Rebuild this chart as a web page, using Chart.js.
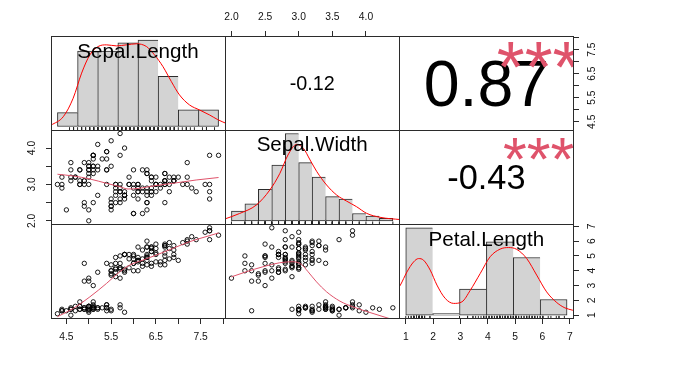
<!DOCTYPE html>
<html>
<head>
<meta charset="utf-8">
<script src="https://cdn.jsdelivr.net/npm/chart.js@4/dist/chart.umd.min.js"></script>
<style>
html, body { margin: 0; padding: 0; background: #fff; }
#wrap { position: relative; width: 678px; height: 366px; }
#wrap canvas { position: absolute; left: 0; top: 0; }
</style>
</head>
<body>
<div id="wrap"></div>
<script>
// variables shown on the diagonal
const varNames = ['Sepal.Length', 'Sepal.Width', 'Petal.Length'];

// raw observations (150 flowers)
const sepalLength = [
  5.1,4.9,4.7,4.6,5.0,5.4,4.6,5.0,4.4,4.9,5.4,4.8,4.8,4.3,5.8,5.7,5.4,5.1,5.7,5.1,5.4,5.1,4.6,5.1,4.8,
  5.0,5.0,5.2,5.2,4.7,4.8,5.4,5.2,5.5,4.9,5.0,5.5,4.9,4.4,5.1,5.0,4.5,4.4,5.0,5.1,4.8,5.1,4.6,5.3,5.0,
  7.0,6.4,6.9,5.5,6.5,5.7,6.3,4.9,6.6,5.2,5.0,5.9,6.0,6.1,5.6,6.7,5.6,5.8,6.2,5.6,5.9,6.1,6.3,6.1,6.4,
  6.6,6.8,6.7,6.0,5.7,5.5,5.5,5.8,6.0,5.4,6.0,6.7,6.3,5.6,5.5,5.5,6.1,5.8,5.0,5.6,5.7,5.7,6.2,5.1,5.7,
  6.3,5.8,7.1,6.3,6.5,7.6,4.9,7.3,6.7,7.2,6.5,6.4,6.8,5.7,5.8,6.4,6.5,7.7,7.7,6.0,6.9,5.6,7.7,6.3,6.7,
  7.2,6.2,6.1,6.4,7.2,7.4,7.9,6.4,6.3,6.1,7.7,6.3,6.4,6.0,6.9,6.7,6.9,5.8,6.8,6.7,6.7,6.3,6.5,6.2,5.9
];
const sepalWidth = [
  3.5,3.0,3.2,3.1,3.6,3.9,3.4,3.4,2.9,3.1,3.7,3.4,3.0,3.0,4.0,4.4,3.9,3.5,3.8,3.8,3.4,3.7,3.6,3.3,3.4,
  3.0,3.4,3.5,3.4,3.2,3.1,3.4,4.1,4.2,3.1,3.2,3.5,3.6,3.0,3.4,3.5,2.3,3.2,3.5,3.8,3.0,3.8,3.2,3.7,3.3,
  3.2,3.2,3.1,2.3,2.8,2.8,3.3,2.4,2.9,2.7,2.0,3.0,2.2,2.9,2.9,3.1,3.0,2.7,2.2,2.5,3.2,2.8,2.5,2.8,2.9,
  3.0,2.8,3.0,2.9,2.6,2.4,2.4,2.7,2.7,3.0,3.4,3.1,2.3,3.0,2.5,2.6,3.0,2.6,2.3,2.7,3.0,2.9,2.9,2.5,2.8,
  3.3,2.7,3.0,2.9,3.0,3.0,2.5,2.9,2.5,3.6,3.2,2.7,3.0,2.5,2.8,3.2,3.0,3.8,2.6,2.2,3.2,2.8,2.8,2.7,3.3,
  3.2,2.8,3.0,2.8,3.0,2.8,3.8,2.8,2.8,2.6,3.0,3.4,3.1,3.0,3.1,3.1,3.1,2.7,3.2,3.3,3.0,2.5,3.0,3.4,3.0
];
const petalLength = [
  1.4,1.4,1.3,1.5,1.4,1.7,1.4,1.5,1.4,1.5,1.5,1.6,1.4,1.1,1.2,1.5,1.3,1.4,1.7,1.5,1.7,1.5,1.0,1.7,1.9,
  1.6,1.6,1.5,1.4,1.6,1.6,1.5,1.5,1.4,1.5,1.2,1.3,1.4,1.3,1.5,1.3,1.3,1.3,1.6,1.9,1.4,1.6,1.4,1.5,1.4,
  4.7,4.5,4.9,4.0,4.6,4.5,4.7,3.3,4.6,3.9,3.5,4.2,4.0,4.7,3.6,4.4,4.5,4.1,4.5,3.9,4.8,4.0,4.9,4.7,4.3,
  4.4,4.8,5.0,4.5,3.5,3.8,3.7,3.9,5.1,4.5,4.5,4.7,4.4,4.1,4.0,4.4,4.6,4.0,3.3,4.2,4.2,4.2,4.3,3.0,4.1,
  6.0,5.1,5.9,5.6,5.8,6.6,4.5,6.3,5.8,6.1,5.1,5.3,5.5,5.0,5.1,5.3,5.5,6.7,6.9,5.0,5.7,4.9,6.7,4.9,5.7,
  6.0,4.8,4.9,5.6,5.8,6.1,6.4,5.6,5.1,5.6,6.1,5.6,5.5,4.8,5.4,5.6,5.1,5.1,5.9,5.7,5.2,5.0,5.2,5.4,5.1
];

// histogram bins and counts
const slBreaks = [4.0, 4.5, 5.0, 5.5, 6.0, 6.5, 7.0, 7.5, 8.0];
const slCounts = [5, 27, 27, 30, 31, 18, 6, 6];
const swBreaks = [2.0, 2.2, 2.4, 2.6, 2.8, 3.0, 3.2, 3.4, 3.6, 3.8, 4.0, 4.2, 4.4];
const swCounts = [4, 7, 13, 23, 36, 24, 18, 10, 9, 3, 2, 1];
const plBreaks = [1, 2, 3, 4, 5, 6, 7];
const plCounts = [50, 1, 15, 42, 33, 9];

// density curves [x, density]
const slDensity = [[3.84,0.006],[4.145,0.047],[4.39,0.135],[4.6,0.255],[4.805,0.342],[5.01,0.382],
  [5.22,0.39],[5.47,0.385],[5.71,0.39],[5.96,0.395],[6.21,0.382],[6.41,0.342],[6.62,0.286],[6.83,0.214],
  [7.03,0.151],[7.28,0.103],[7.53,0.079],[7.78,0.055],[7.98,0.033],[8.2,0.014]];
const swDensity = [[1.88,0.018],[2.12,0.1],[2.37,0.217],[2.57,0.423],[2.72,0.652],[2.84,0.904],
  [2.97,1.05],[3.07,0.996],[3.17,0.835],[3.27,0.675],[3.415,0.492],[3.565,0.354],[3.71,0.272],
  [3.86,0.194],[4.01,0.103],[4.21,0.048],[4.52,0.016]];
const plDensity = [[0.7,0.1],[0.8,0.115],[1.045,0.165],[1.29,0.203],[1.477,0.216],[1.66,0.21],
  [1.91,0.172],[2.16,0.115],[2.468,0.064],[2.78,0.045],[3.09,0.051],[3.4,0.095],[3.77,0.159],
  [4.14,0.223],[4.51,0.252],[4.82,0.258],[5.13,0.251],[5.5,0.216],[5.87,0.153],[6.24,0.089],
  [6.62,0.048],[6.92,0.028],[7.21,0.019],[7.3,0.016]];

// smoother lines in the lower panels [x, y]
const slSwSmooth = [[4.3,3.28],[4.653,3.232],[5.025,3.149],[5.397,3.031],[5.693,2.938],[5.878,2.874],
  [6.139,2.894],[6.435,2.957],[6.881,3.031],[7.4,3.122],[7.9,3.19]];
const slPlSmooth = [[4.3,0.9],[4.653,1.454],[5.025,2.239],[5.397,3.146],[5.693,3.93],[5.916,4.384],
  [6.21,4.72],[6.51,5.06],[6.88,5.51],[7.25,5.96],[7.62,6.3],[7.9,6.55]];
const swPlSmooth = [[2.0,3.59],[2.22,3.93],[2.468,4.27],[2.717,4.54],[2.916,4.61],[3.04,4.43],
  [3.14,3.93],[3.265,3.25],[3.414,2.58],[3.613,1.95],[3.81,1.56],[4.06,1.18],[4.4,0.7]];

// correlations for upper panels: (1,2), (1,3), (2,3)
const corrValues = [-0.12, 0.87, -0.43];
const corrStars = ['', '***', '***'];

// axis ticks
const slTicks = [4.5, 5, 5.5, 6, 6.5, 7, 7.5, 8];
const slTickLabels = ['4.5', '', '5.5', '', '6.5', '', '7.5', ''];
const swTicks = [2, 2.5, 3, 3.5, 4];
const swTopLabels = ['2.0', '2.5', '3.0', '3.5', '4.0'];
const swLeftLabels = ['2.0', '', '3.0', '', '4.0'];
const plTicks = [1, 2, 3, 4, 5, 6, 7];
const plTickLabels = ['1', '2', '3', '4', '5', '6', '7'];

const W = 678, H = 366;
const colEdges = [51, 225, 399.3, 573.5];
const rowEdges = [36.5, 130, 224.3, 318.7];
const FONT = '"Liberation Sans", Arial, Helvetica, sans-serif';
const LINE = '#2b2b2b';

const vars = [sepalLength, sepalWidth, petalLength];
const hists = [
  { breaks: slBreaks, counts: slCounts, dens: slDensity },
  { breaks: swBreaks, counts: swCounts, dens: swDensity },
  { breaks: plBreaks, counts: plCounts, dens: plDensity }
];
const smooths = { '10': slSwSmooth, '20': slPlSmooth, '21': swPlSmooth };
const axisTicks = [
  { ticks: slTicks, bottom: slTickLabels, top: slTickLabels, left: slTickLabels, right: slTickLabels },
  { ticks: swTicks, bottom: swTopLabels, top: swTopLabels, left: swLeftLabels, right: swLeftLabels },
  { ticks: plTicks, bottom: plTickLabels, top: plTickLabels, left: plTickLabels, right: plTickLabels }
];

function ext(lo, hi) {
  const d = (hi - lo) * 0.04;
  return [lo - d, hi + d];
}
const ranges = vars.map(v => ext(Math.min(...v), Math.max(...v)));

function snap(v) { return Math.floor(v) + 0.5; }

function drawCentered(ctx, txt, px, cx, cy, color) {
  ctx.font = px + 'px ' + FONT;
  ctx.textAlign = 'center';
  ctx.textBaseline = 'alphabetic';
  const m = ctx.measureText(txt);
  ctx.fillStyle = color;
  ctx.fillText(txt, cx, cy + (m.actualBoundingBoxAscent - m.actualBoundingBoxDescent) / 2);
}

function drawAxis(chart, ax) {
  const ctx = chart.ctx;
  const a = chart.chartArea;
  const sc = chart.scales[ax.scale];
  const TICK = 5.5, LAB = 19;
  ctx.save();
  ctx.strokeStyle = LINE;
  ctx.lineWidth = 1;
  ctx.fillStyle = '#111';
  ctx.font = '10.3px ' + FONT;
  ctx.textAlign = 'center';
  ctx.textBaseline = 'middle';
  const pos = ax.ticks.map(v => sc.getPixelForValue(v));
  ctx.beginPath();
  if (ax.side === 'bottom' || ax.side === 'top') {
    const y0 = ax.side === 'bottom' ? snap(a.bottom) : snap(a.top);
    const dir = ax.side === 'bottom' ? 1 : -1;
    ctx.moveTo(snap(pos[0]), y0);
    ctx.lineTo(snap(pos[pos.length - 1]), y0);
    pos.forEach(p => { ctx.moveTo(snap(p), y0); ctx.lineTo(snap(p), y0 + dir * TICK); });
    ctx.stroke();
    ax.labels.forEach((t, i) => { if (t) ctx.fillText(t, pos[i], y0 + dir * LAB); });
  } else {
    const x0 = ax.side === 'left' ? snap(a.left) : snap(a.right);
    const dir = ax.side === 'left' ? -1 : 1;
    ctx.moveTo(x0, snap(pos[0]));
    ctx.lineTo(x0, snap(pos[pos.length - 1]));
    pos.forEach(p => { ctx.moveTo(x0, snap(p)); ctx.lineTo(x0 + dir * TICK, snap(p)); });
    ctx.stroke();
    ax.labels.forEach((t, i) => {
      if (!t) return;
      ctx.save();
      ctx.translate(x0 + dir * LAB, pos[i]);
      ctx.rotate(-Math.PI / 2);
      ctx.fillText(t, 0, 0);
      ctx.restore();
    });
  }
  ctx.restore();
}

// texts, panel frame and axes
const decor = {
  id: 'decor',
  afterDatasetsDraw(chart, args, opts) {
    const ctx = chart.ctx;
    const a = chart.chartArea;
    const w = a.right - a.left, h = a.bottom - a.top;
    ctx.save();
    if (opts.label) {
      drawCentered(ctx, opts.label, 20.6, a.left + 0.5 * w, a.bottom - 0.8333 * h, '#000');
    }
    if (opts.corr !== undefined && opts.corr !== null) {
      const r = opts.corr;
      const txt = r.toFixed(2);
      ctx.font = '100px ' + FONT;
      const w100 = ctx.measureText(txt).width;
      const cexPx = 100 * 0.8 * w / w100;
      drawCentered(ctx, txt, cexPx * (Math.abs(r) + 0.3) / 1.3, a.left + 0.5 * w, a.bottom - 0.5 * h, '#000');
      if (opts.stars) {
        ctx.save();
        ctx.beginPath();
        ctx.rect(a.left, a.top, w, h);
        ctx.clip();
        drawCentered(ctx, opts.stars, cexPx, a.left + 0.8 * w, a.bottom - 0.8 * h, '#DF536B');
        ctx.restore();
      }
    }
    ctx.restore();
  },
  afterDraw(chart, args, opts) {
    const ctx = chart.ctx;
    const a = chart.chartArea;
    ctx.save();
    ctx.strokeStyle = LINE;
    ctx.lineWidth = 1;
    ctx.strokeRect(snap(a.left), snap(a.top), snap(a.right) - snap(a.left), snap(a.bottom) - snap(a.top));
    ctx.restore();
    (opts.axes || []).forEach(ax => drawAxis(chart, ax));
  }
};

const wrap = document.getElementById('wrap');

for (let i = 0; i < 3; i++) {
  for (let j = 0; j < 3; j++) {
    const canvas = document.createElement('canvas');
    canvas.width = W;
    canvas.height = H;
    wrap.appendChild(canvas);

    const pad = {
      left: colEdges[j], right: W - colEdges[j + 1],
      top: rowEdges[i], bottom: H - rowEdges[i + 1]
    };

    // axes like pairs(): alternate sides
    const axes = [];
    if (i === 2 && j % 2 === 0) axes.push({ side: 'bottom', scale: 'vx', ticks: axisTicks[j].ticks, labels: axisTicks[j].bottom });
    if (i === 0 && j % 2 === 1) axes.push({ side: 'top', scale: 'vx', ticks: axisTicks[j].ticks, labels: axisTicks[j].top });
    if (j === 0 && i % 2 === 1) axes.push({ side: 'left', scale: 'vy', ticks: axisTicks[i].ticks, labels: axisTicks[i].left });
    if (j === 2 && i % 2 === 0) axes.push({ side: 'right', scale: 'vy', ticks: axisTicks[i].ticks, labels: axisTicks[i].right });

    let type, datasets, xr, yr, xStep;
    const decorOpts = { axes: axes };

    if (i === j) {
      const hst = hists[i];
      const bw = hst.breaks[1] - hst.breaks[0];
      const n = vars[i].length;
      const dens = hst.counts.map(c => c / (n * bw));
      const maxD = Math.max(...dens);
      xr = ext(hst.breaks[0], hst.breaks[hst.breaks.length - 1]);
      yr = ext(0, maxD);
      xStep = bw;
      const last = hst.counts.length - 1;
      type = 'bar';
      datasets = [
        {
          type: 'bar',
          data: hst.counts.map((c, k) => ({ x: (hst.breaks[k] + hst.breaks[k + 1]) / 2, y: dens[k] })),
          backgroundColor: '#D3D3D3',
          borderColor: LINE,
          borderWidth: ctx => ctx.dataIndex === last ? 1 : { left: 1, top: 1, bottom: 1, right: 0 },
          borderSkipped: false,
          barPercentage: 1,
          categoryPercentage: 1,
          order: 3
        },
        {
          type: 'line',
          data: hst.dens.map(p => ({ x: p[0], y: p[1] })),
          borderColor: '#FF0000',
          borderWidth: 1,
          pointRadius: 0,
          fill: false,
          cubicInterpolationMode: 'monotone',
          order: 2
        },
        {
          type: 'line',
          data: vars[i].map(v => ({ x: v, y: yr[0] + (yr[1] - yr[0]) * 0.015 })),
          showLine: false,
          pointStyle: 'line',
          pointRotation: 90,
          pointRadius: 1.4,
          pointBorderWidth: 1,
          pointBorderColor: '#222',
          order: 1
        }
      ];
      decorOpts.label = varNames[i];
    } else if (i > j) {
      xr = ranges[j];
      yr = ranges[i];
      type = 'scatter';
      datasets = [
        {
          data: vars[j].map((v, k) => ({ x: v, y: vars[i][k] })),
          pointStyle: 'circle',
          pointRadius: 2.2,
          pointBorderWidth: 0.9,
          pointBorderColor: '#000',
          pointBackgroundColor: 'rgba(0,0,0,0)',
          showLine: false,
          order: 2
        },
        {
          data: smooths['' + i + j].map(p => ({ x: p[0], y: p[1] })),
          showLine: true,
          borderColor: '#DF536B',
          borderWidth: 1,
          pointRadius: 0,
          cubicInterpolationMode: 'monotone',
          order: 1
        }
      ];
    } else {
      xr = [0, 1];
      yr = [0, 1];
      type = 'scatter';
      datasets = [];
      const k = i === 0 ? j - 1 : 2;
      decorOpts.corr = corrValues[k];
      decorOpts.stars = corrStars[k];
    }

    new Chart(canvas, {
      type: type,
      data: { datasets: datasets },
      options: {
        responsive: false,
        animation: false,
        events: [],
        layout: { padding: pad },
        plugins: {
          legend: { display: false },
          tooltip: { enabled: false },
          decor: decorOpts
        },
        scales: {
          x: {
            type: 'linear', display: false, min: xr[0], max: xr[1], offset: false,
            ticks: xStep ? { stepSize: xStep, includeBounds: false } : {}
          },
          y: { type: 'linear', display: false, min: yr[0], max: yr[1], offset: false },
          vx: { type: 'linear', axis: 'x', position: 'bottom', display: false, offset: false, min: ranges[j][0], max: ranges[j][1] },
          vy: { type: 'linear', axis: 'y', position: 'left', display: false, offset: false, min: ranges[i][0], max: ranges[i][1] }
        }
      },
      plugins: [decor]
    });
  }
}
</script>
</body>
</html>
